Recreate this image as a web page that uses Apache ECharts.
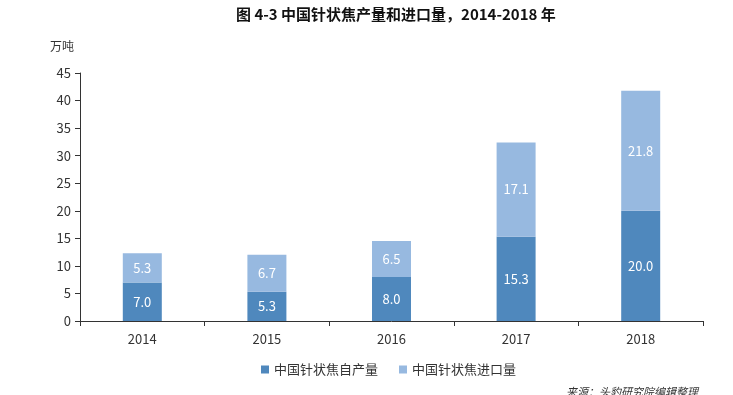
<!DOCTYPE html>
<html><head><meta charset="utf-8">
<script src="https://cdn.jsdelivr.net/npm/echarts@6/dist/echarts.min.js"></script>
<style>html,body{margin:0;padding:0;background:#fff;}#c{width:733px;height:395px;}</style>
</head><body><div id="c"></div>
<script>
const categories = ['2014','2015','2016','2017','2018'];
const domestic = [7.0, 5.3, 8.0, 15.3, 20.0];
const imported = [5.3, 6.7, 6.5, 17.1, 21.8];
const yTicks = [0,5,10,15,20,25,30,35,40,45];
const FONT = '"Noto Sans CJK SC","Noto Sans",sans-serif';
const chart = echarts.init(document.getElementById('c'));
chart.setOption({
  animation: false,
  textStyle: {fontFamily: FONT},
  title: {text: '图 4-3 中国针状焦产量和进口量，2014-2018 年', left: 231, top: 2,
    textStyle: {fontSize: 15, fontWeight: 'bold', color: '#111', fontFamily: FONT}},
  grid: {left: 80, right: 30, top: 73, bottom: 74},
  legend: {top: 358, left: 256, itemWidth: 8, itemHeight: 8, itemGap: 21, icon: 'rect',
    textStyle: {fontSize: 13, color: '#333', fontFamily: FONT}, data: ['中国针状焦自产量','中国针状焦进口量']},
  xAxis: {type: 'category', data: categories,
    axisLine: {lineStyle: {color: '#333'}}, axisTick: {show: true, length: 5, lineStyle: {color: '#333'}},
    axisLabel: {fontSize: 13, color: '#333', margin: 12}},
  yAxis: {type: 'value', min: yTicks[0], max: yTicks[yTicks.length-1], interval: 5,
    name: '万吨', nameLocation: 'end', nameGap: 21, nameTextStyle: {fontSize: 12, color: '#333', align: 'right', padding: [0, 6, 0, 0]},
    splitLine: {show: false}, axisLine: {show: true, lineStyle: {color: '#333'}},
    axisTick: {show: true, length: 5, lineStyle: {color: '#333'}},
    axisLabel: {fontSize: 13, color: '#333', margin: 9}},
  series: [
    {name: '中国针状焦自产量', type: 'bar', stack: 's', data: domestic, barWidth: 39,
     itemStyle: {color: '#4f88bd'},
     label: {show: true, position: 'inside', color: '#fff', fontSize: 13, formatter: p => p.value.toFixed(1)}},
    {name: '中国针状焦进口量', type: 'bar', stack: 's', data: imported, barWidth: 39,
     itemStyle: {color: '#97b9e0'},
     label: {show: true, position: 'inside', color: '#fff', fontSize: 13, formatter: p => p.value.toFixed(1)}}
  ],
  graphic: [{type: 'text', left: 566, top: 386,
    style: {text: '来源：头豹研究院编辑整理', fontSize: 11, fontStyle: 'italic', fill: '#333', fontFamily: FONT}}]
});
</script></body></html>
